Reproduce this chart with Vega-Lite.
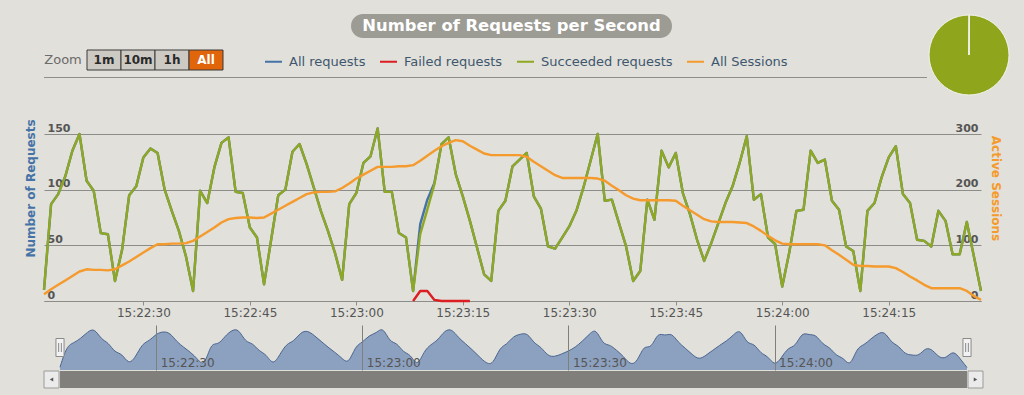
{
  "$schema": "https://vega.github.io/schema/vega-lite/v6.json",
  "background": "#e1e0da",
  "padding": {"left": 23, "top": 13, "right": 18, "bottom": 8},
  "config": {
    "font": "DejaVu Sans",
    "view": {"stroke": null}
  },
  "datasets": {
    "rps": [
      {"t":"2016-01-01T15:22:16","ok":10,"all":10,"sessions":12},
      {"t":"2016-01-01T15:22:17","ok":87,"all":87,"sessions":21},
      {"t":"2016-01-01T15:22:18","ok":96,"all":96,"sessions":29},
      {"t":"2016-01-01T15:22:19","ok":112,"all":112,"sessions":37},
      {"t":"2016-01-01T15:22:20","ok":135,"all":135,"sessions":45},
      {"t":"2016-01-01T15:22:21","ok":150,"all":150,"sessions":53},
      {"t":"2016-01-01T15:22:22","ok":108,"all":108,"sessions":57},
      {"t":"2016-01-01T15:22:23","ok":99,"all":99,"sessions":56},
      {"t":"2016-01-01T15:22:24","ok":61,"all":61,"sessions":56},
      {"t":"2016-01-01T15:22:25","ok":60,"all":60,"sessions":55},
      {"t":"2016-01-01T15:22:26","ok":18,"all":18,"sessions":57},
      {"t":"2016-01-01T15:22:27","ok":46,"all":46,"sessions":64},
      {"t":"2016-01-01T15:22:28","ok":95,"all":95,"sessions":71},
      {"t":"2016-01-01T15:22:29","ok":103,"all":103,"sessions":79},
      {"t":"2016-01-01T15:22:30","ok":129,"all":129,"sessions":87},
      {"t":"2016-01-01T15:22:31","ok":137,"all":137,"sessions":95},
      {"t":"2016-01-01T15:22:32","ok":133,"all":133,"sessions":102},
      {"t":"2016-01-01T15:22:33","ok":100,"all":100,"sessions":102},
      {"t":"2016-01-01T15:22:34","ok":81,"all":81,"sessions":103},
      {"t":"2016-01-01T15:22:35","ok":63,"all":63,"sessions":103},
      {"t":"2016-01-01T15:22:36","ok":40,"all":40,"sessions":104},
      {"t":"2016-01-01T15:22:37","ok":9,"all":9,"sessions":108},
      {"t":"2016-01-01T15:22:38","ok":99,"all":99,"sessions":116},
      {"t":"2016-01-01T15:22:39","ok":88,"all":88,"sessions":124},
      {"t":"2016-01-01T15:22:40","ok":120,"all":120,"sessions":132},
      {"t":"2016-01-01T15:22:41","ok":142,"all":142,"sessions":141},
      {"t":"2016-01-01T15:22:42","ok":147,"all":147,"sessions":147},
      {"t":"2016-01-01T15:22:43","ok":98,"all":98,"sessions":149},
      {"t":"2016-01-01T15:22:44","ok":97,"all":97,"sessions":150},
      {"t":"2016-01-01T15:22:45","ok":66,"all":66,"sessions":150},
      {"t":"2016-01-01T15:22:46","ok":57,"all":57,"sessions":149},
      {"t":"2016-01-01T15:22:47","ok":15,"all":15,"sessions":150},
      {"t":"2016-01-01T15:22:48","ok":55,"all":55,"sessions":157},
      {"t":"2016-01-01T15:22:49","ok":95,"all":95,"sessions":164},
      {"t":"2016-01-01T15:22:50","ok":100,"all":100,"sessions":171},
      {"t":"2016-01-01T15:22:51","ok":134,"all":134,"sessions":178},
      {"t":"2016-01-01T15:22:52","ok":141,"all":141,"sessions":185},
      {"t":"2016-01-01T15:22:53","ok":123,"all":123,"sessions":192},
      {"t":"2016-01-01T15:22:54","ok":102,"all":102,"sessions":195},
      {"t":"2016-01-01T15:22:55","ok":81,"all":81,"sessions":196},
      {"t":"2016-01-01T15:22:56","ok":63,"all":63,"sessions":196},
      {"t":"2016-01-01T15:22:57","ok":43,"all":43,"sessions":197},
      {"t":"2016-01-01T15:22:58","ok":19,"all":19,"sessions":203},
      {"t":"2016-01-01T15:22:59","ok":87,"all":87,"sessions":211},
      {"t":"2016-01-01T15:23:00","ok":97,"all":97,"sessions":220},
      {"t":"2016-01-01T15:23:01","ok":124,"all":124,"sessions":227},
      {"t":"2016-01-01T15:23:02","ok":130,"all":130,"sessions":234},
      {"t":"2016-01-01T15:23:03","ok":155,"all":155,"sessions":241},
      {"t":"2016-01-01T15:23:04","ok":98,"all":98,"sessions":241},
      {"t":"2016-01-01T15:23:05","ok":98,"all":98,"sessions":241},
      {"t":"2016-01-01T15:23:06","ok":61,"all":61,"sessions":242},
      {"t":"2016-01-01T15:23:07","ok":57,"all":57,"sessions":242},
      {"t":"2016-01-01T15:23:08","ok":9,"all":9,"failed":0,"sessions":244},
      {"t":"2016-01-01T15:23:09","ok":60,"all":69,"failed":9,"sessions":252},
      {"t":"2016-01-01T15:23:10","ok":82,"all":91,"failed":9,"sessions":261},
      {"t":"2016-01-01T15:23:11","ok":105,"all":106,"failed":1,"sessions":270},
      {"t":"2016-01-01T15:23:12","ok":141,"all":141,"failed":0,"sessions":278},
      {"t":"2016-01-01T15:23:13","ok":147,"all":147,"failed":0,"sessions":284},
      {"t":"2016-01-01T15:23:14","ok":114,"all":114,"failed":0,"sessions":289},
      {"t":"2016-01-01T15:23:15","ok":94,"all":94,"failed":0,"sessions":287},
      {"t":"2016-01-01T15:23:16","ok":72,"all":72,"failed":0,"sessions":279},
      {"t":"2016-01-01T15:23:17","ok":48,"all":48,"sessions":272},
      {"t":"2016-01-01T15:23:18","ok":24,"all":24,"sessions":265},
      {"t":"2016-01-01T15:23:19","ok":18,"all":18,"sessions":262},
      {"t":"2016-01-01T15:23:20","ok":81,"all":81,"sessions":262},
      {"t":"2016-01-01T15:23:21","ok":90,"all":90,"sessions":262},
      {"t":"2016-01-01T15:23:22","ok":121,"all":121,"sessions":262},
      {"t":"2016-01-01T15:23:23","ok":127,"all":127,"sessions":262},
      {"t":"2016-01-01T15:23:24","ok":133,"all":133,"sessions":259},
      {"t":"2016-01-01T15:23:25","ok":94,"all":94,"sessions":250},
      {"t":"2016-01-01T15:23:26","ok":83,"all":83,"sessions":242},
      {"t":"2016-01-01T15:23:27","ok":49,"all":49,"sessions":234},
      {"t":"2016-01-01T15:23:28","ok":47,"all":47,"sessions":226},
      {"t":"2016-01-01T15:23:29","ok":57,"all":57,"sessions":221},
      {"t":"2016-01-01T15:23:30","ok":67,"all":67,"sessions":221},
      {"t":"2016-01-01T15:23:31","ok":81,"all":81,"sessions":221},
      {"t":"2016-01-01T15:23:32","ok":102,"all":102,"sessions":221},
      {"t":"2016-01-01T15:23:33","ok":126,"all":126,"sessions":221},
      {"t":"2016-01-01T15:23:34","ok":150,"all":150,"sessions":220},
      {"t":"2016-01-01T15:23:35","ok":90,"all":90,"sessions":216},
      {"t":"2016-01-01T15:23:36","ok":91,"all":91,"sessions":207},
      {"t":"2016-01-01T15:23:37","ok":70,"all":70,"sessions":199},
      {"t":"2016-01-01T15:23:38","ok":49,"all":49,"sessions":190},
      {"t":"2016-01-01T15:23:39","ok":18,"all":18,"sessions":184},
      {"t":"2016-01-01T15:23:40","ok":27,"all":27,"sessions":181},
      {"t":"2016-01-01T15:23:41","ok":91,"all":91,"sessions":181},
      {"t":"2016-01-01T15:23:42","ok":73,"all":73,"sessions":181},
      {"t":"2016-01-01T15:23:43","ok":135,"all":135,"sessions":181},
      {"t":"2016-01-01T15:23:44","ok":120,"all":120,"sessions":181},
      {"t":"2016-01-01T15:23:45","ok":133,"all":133,"sessions":180},
      {"t":"2016-01-01T15:23:46","ok":97,"all":97,"sessions":171},
      {"t":"2016-01-01T15:23:47","ok":78,"all":78,"sessions":163},
      {"t":"2016-01-01T15:23:48","ok":55,"all":55,"sessions":155},
      {"t":"2016-01-01T15:23:49","ok":36,"all":36,"sessions":147},
      {"t":"2016-01-01T15:23:50","ok":52,"all":52,"sessions":143},
      {"t":"2016-01-01T15:23:51","ok":70,"all":70,"sessions":142},
      {"t":"2016-01-01T15:23:52","ok":88,"all":88,"sessions":142},
      {"t":"2016-01-01T15:23:53","ok":103,"all":103,"sessions":142},
      {"t":"2016-01-01T15:23:54","ok":124,"all":124,"sessions":141},
      {"t":"2016-01-01T15:23:55","ok":148,"all":148,"sessions":140},
      {"t":"2016-01-01T15:23:56","ok":91,"all":91,"sessions":134},
      {"t":"2016-01-01T15:23:57","ok":96,"all":96,"sessions":126},
      {"t":"2016-01-01T15:23:58","ok":57,"all":57,"sessions":117},
      {"t":"2016-01-01T15:23:59","ok":51,"all":51,"sessions":109},
      {"t":"2016-01-01T15:24:00","ok":13,"all":13,"sessions":103},
      {"t":"2016-01-01T15:24:01","ok":44,"all":44,"sessions":102},
      {"t":"2016-01-01T15:24:02","ok":81,"all":81,"sessions":102},
      {"t":"2016-01-01T15:24:03","ok":82,"all":82,"sessions":102},
      {"t":"2016-01-01T15:24:04","ok":135,"all":135,"sessions":102},
      {"t":"2016-01-01T15:24:05","ok":124,"all":124,"sessions":102},
      {"t":"2016-01-01T15:24:06","ok":127,"all":127,"sessions":100},
      {"t":"2016-01-01T15:24:07","ok":90,"all":90,"sessions":91},
      {"t":"2016-01-01T15:24:08","ok":82,"all":82,"sessions":83},
      {"t":"2016-01-01T15:24:09","ok":49,"all":49,"sessions":74},
      {"t":"2016-01-01T15:24:10","ok":45,"all":45,"sessions":65},
      {"t":"2016-01-01T15:24:11","ok":9,"all":9,"sessions":63},
      {"t":"2016-01-01T15:24:12","ok":81,"all":81,"sessions":63},
      {"t":"2016-01-01T15:24:13","ok":88,"all":88,"sessions":62},
      {"t":"2016-01-01T15:24:14","ok":111,"all":111,"sessions":62},
      {"t":"2016-01-01T15:24:15","ok":129,"all":129,"sessions":62},
      {"t":"2016-01-01T15:24:16","ok":139,"all":139,"sessions":59},
      {"t":"2016-01-01T15:24:17","ok":96,"all":96,"sessions":52},
      {"t":"2016-01-01T15:24:18","ok":88,"all":88,"sessions":44},
      {"t":"2016-01-01T15:24:19","ok":55,"all":55,"sessions":37},
      {"t":"2016-01-01T15:24:20","ok":54,"all":54,"sessions":29},
      {"t":"2016-01-01T15:24:21","ok":49,"all":49,"sessions":23},
      {"t":"2016-01-01T15:24:22","ok":81,"all":81,"sessions":23},
      {"t":"2016-01-01T15:24:23","ok":72,"all":72,"sessions":23},
      {"t":"2016-01-01T15:24:24","ok":42,"all":42,"sessions":23},
      {"t":"2016-01-01T15:24:25","ok":42,"all":42,"sessions":23},
      {"t":"2016-01-01T15:24:26","ok":71,"all":71,"sessions":18},
      {"t":"2016-01-01T15:24:27","ok":40,"all":40,"sessions":9},
      {"t":"2016-01-01T15:24:28","ok":9,"all":9,"sessions":2}
    ]
  },
  "spacing": 21,
  "resolve": {"scale": {"color": "independent"}, "legend": {"color": "independent"}},
  "vconcat": [
    {
      "spacing": 0,
      "resolve": {"scale": {"color": "independent"}, "legend": {"color": "independent"}},
      "hconcat": [
        {
          "spacing": 6,
          "resolve": {"scale": {"color": "independent"}, "legend": {"color": "independent"}},
          "vconcat": [
            {
              "spacing": 0,
              "hconcat": [
                {
                  "width": 307, "height": 29,
                  "data": {"values": [{}]},
                  "mark": {"type": "rect", "opacity": 0},
                  "encoding": {}
                },
                {
                  "width": 321, "height": 24,
                  "data": {"values": [{"title": "Number of Requests per Second"}]},
                  "layer": [
                    {"mark": {"type": "rect", "fill": "#9c9b94", "cornerRadius": 12}, "encoding": {}},
                    {"mark": {"type": "text", "fontSize": 16.4, "fontWeight": "bold", "fill": "#ffffff"},
                     "encoding": {"text": {"field": "title"}}}
                  ]
                }
              ]
            },
            {
              "width": 179, "height": 20,
              "data": {"values": [
                {"label": "Zoom", "kind": "label"},
                {"label": "1m", "kind": "button"},
                {"label": "10m", "kind": "button"},
                {"label": "1h", "kind": "button"},
                {"label": "All", "kind": "active"}
              ]},
              "encoding": {
                "x": {"field": "label", "type": "nominal", "sort": null,
                      "scale": {"type": "band", "domain": ["Zoom", "1m", "10m", "1h", "All"],
                                "paddingInner": 0, "paddingOuter": 0.1324, "align": 1},
                      "axis": null}
              },
              "layer": [
                {
                  "transform": [{"filter": "datum.kind != 'label'"}],
                  "mark": {"type": "rect", "stroke": "#3a3a3a", "strokeWidth": 1},
                  "encoding": {"fill": {"condition": {"test": "datum.kind == 'active'", "value": "#e0650b"}, "value": "#cdcac4"}}
                },
                {
                  "transform": [{"filter": "datum.kind != 'label'"}],
                  "mark": {"type": "text", "fontSize": 12, "fontWeight": "bold"},
                  "encoding": {
                    "text": {"field": "label"},
                    "color": {"condition": {"test": "datum.kind == 'active'", "value": "#ffffff"}, "value": "#2a2a2a"}
                  }
                },
                {
                  "transform": [{"filter": "datum.kind == 'label'"}],
                  "mark": {"type": "text", "fontSize": 13, "color": "#6b6b6b", "dx": -7},
                  "encoding": {"text": {"field": "label"}}
                },
                {
                  "data": {"values": []},
                  "mark": {"type": "point", "opacity": 1},
                  "encoding": {
                    "color": {"field": "series", "type": "nominal",
                              "scale": {"domain": ["All requests", "Failed requests", "Succeeded requests", "All Sessions"],
                                        "range": ["#4572a7", "#dc1e23", "#8ea823", "#f59a2c"]},
                              "legend": {"orient": "none", "legendX": 220, "legendY": 2, "direction": "horizontal",
                                         "columns": 4, "title": null, "symbolType": "stroke", "symbolStrokeWidth": 2,
                                         "symbolSize": 289, "symbolOpacity": 1, "labelFontSize": 13, "labelColor": "#3e576f",
                                         "columnPadding": 10, "labelOffset": 6, "padding": 0}}
                  }
                }
              ]
            },
            {
              "width": 883, "height": 1,
              "data": {"values": [{}]},
              "mark": {"type": "rect", "fill": "#8e8e8a"},
              "encoding": {}
            }
          ]
        },
        {
          "width": 80, "height": 82,
          "data": {"name": "rps"},
          "transform": [
            {"fold": ["ok", "failed"], "as": ["status", "n"]},
            {"aggregate": [{"op": "sum", "field": "n", "as": "total"}], "groupby": ["status"]}
          ],
          "mark": {"type": "arc", "radius": 40, "stroke": "#f4f4f0", "strokeWidth": 1},
          "encoding": {
            "theta": {"field": "total", "type": "quantitative"},
            "order": {"field": "status", "sort": "ascending"},
            "fill": {"condition": {"test": "datum.status == 'failed'", "value": "#d8221f"}, "value": "#8fa51b"}
          }
        }
      ]
    },
    {
      "spacing": 7,
      "vconcat": [
        {
          "width": 937, "height": 167,
          "data": {"name": "rps"},
          "encoding": {
            "x": {"field": "t", "type": "temporal", "scale": {"nice": false},
                  "axis": {"title": null, "format": "%H:%M:%S", "tickCount": 9,
                           "grid": false, "domain": true, "domainColor": "#8c8c88", "ticks": true, "tickSize": 4,
                           "tickColor": "#8c8c88", "labelFontSize": 12, "labelColor": "#555555", "labelPadding": 2,
                           "labelFlush": false}}
          },
          "layer": [
            {
              "mark": {"type": "line", "strokeWidth": 2.4, "strokeJoin": "round", "color": "#4572a7"},
              "encoding": {
                "y": {"field": "all", "type": "quantitative", "scale": {"domain": [0, 150], "nice": false},
                      "axis": {"title": "Number of Requests", "values": [0, 50, 100, 150], "grid": true,
                               "gridColor": "#8c8c88", "domain": false, "ticks": false,
                               "labelAlign": "left", "labelBaseline": "alphabetic", "labelPadding": -3,
                               "labelOffset": -3, "labelFontSize": 11, "labelFontWeight": "bold",
                               "labelColor": "#555555", "titleColor": "#4572a7", "titleFontSize": 12,
                               "titleFontWeight": "bold", "titleAngle": -90, "titleX": -10, "titleY": 54,
                               "titleAlign": "center", "titleBaseline": "alphabetic"}}
              }
            },
            {
              "mark": {"type": "line", "strokeWidth": 2.4, "strokeJoin": "round", "color": "#dc1e23"},
              "encoding": {
                "y": {"field": "failed", "type": "quantitative", "scale": {"domain": [0, 150], "nice": false}, "axis": null}
              }
            },
            {
              "mark": {"type": "line", "strokeWidth": 2.4, "strokeJoin": "round", "color": "#8ea823"},
              "encoding": {
                "y": {"field": "ok", "type": "quantitative", "scale": {"domain": [0, 150], "nice": false}, "axis": null}
              }
            },
            {
              "mark": {"type": "line", "strokeWidth": 2.4, "strokeJoin": "round", "color": "#f59a2c"},
              "encoding": {
                "y": {"field": "sessions", "type": "quantitative", "scale": {"domain": [0, 300], "nice": false},
                      "axis": {"orient": "right", "title": "Active Sessions", "values": [0, 100, 200, 300], "grid": false,
                               "domain": false, "ticks": false, "labelAlign": "right", "labelBaseline": "alphabetic",
                               "labelPadding": -3, "labelOffset": -3, "labelFontSize": 11, "labelFontWeight": "bold",
                               "labelColor": "#555555", "titleColor": "#f59a2c", "titleFontSize": 12,
                               "titleFontWeight": "bold", "titleAngle": 90, "titleX": 10, "titleY": 54,
                               "titleAlign": "center", "titleBaseline": "alphabetic"}}
              }
            }
          ],
          "resolve": {"scale": {"y": "independent"}}
        },
        {
          "spacing": 0,
          "vconcat": [
            {
              "spacing": 0,
              "hconcat": [
                {
                  "width": 8.5, "height": 45,
                  "data": {"values": [{}]},
                  "mark": {"type": "rect", "opacity": 0},
                  "encoding": {}
                },
                {
                  "width": 907, "height": 45,
                  "data": {"name": "rps"},
                  "encoding": {
                    "x": {"field": "t", "type": "temporal", "scale": {"nice": false},
                          "axis": {"title": null, "format": "%H:%M:%S", "tickCount": 4,
                                   "grid": true, "gridColor": "#7f7f7b", "domain": false, "ticks": false,
                                   "labelAlign": "left", "labelBaseline": "alphabetic", "labelPadding": -4,
                                   "labelOffset": 4, "labelFontSize": 12, "labelColor": "#555555",
                                   "labelFlush": false, "zindex": 1}}
                  },
                  "layer": [
                    {
                      "mark": {"type": "area", "interpolate": "basis", "fill": "#8ca0bf", "fillOpacity": 1,
                               "line": {"stroke": "#4a6590", "strokeWidth": 1}},
                      "encoding": {
                        "y": {"field": "all", "type": "quantitative", "scale": {"domain": [0, 160], "nice": false}, "axis": null}
                      }
                    },
                    {
                      "transform": [
                        {"window": [{"op": "row_number", "as": "rn"}]},
                        {"joinaggregate": [{"op": "count", "as": "cnt"}]},
                        {"filter": "datum.rn == 1 || datum.rn == datum.cnt"}
                      ],
                      "mark": {"type": "point", "shape": "M-0.45,-1H0.45V1H-0.45Z M-0.15,-0.5V0.5 M0.15,-0.5V0.5",
                               "size": 324, "filled": true, "fill": "#f2f2f2", "stroke": "#8a8a8a",
                               "strokeWidth": 1, "opacity": 1},
                      "encoding": {}
                    }
                  ]
                }
              ]
            },
            {
              "spacing": 0,
              "hconcat": [
                {
                  "width": 15, "height": 17,
                  "data": {"values": [{}]},
                  "layer": [
                    {"mark": {"type": "rect", "fill": "#ebebeb", "stroke": "#9a9a9a", "strokeWidth": 1}, "encoding": {}},
                    {"mark": {"type": "point", "shape": "triangle-left", "size": 16, "filled": true, "fill": "#555555", "opacity": 1}, "encoding": {}}
                  ]
                },
                {
                  "width": 907, "height": 17,
                  "data": {"values": [{}]},
                  "mark": {"type": "rect", "fill": "#807f7b"},
                  "encoding": {}
                },
                {
                  "width": 15, "height": 17,
                  "data": {"values": [{}]},
                  "layer": [
                    {"mark": {"type": "rect", "fill": "#ebebeb", "stroke": "#9a9a9a", "strokeWidth": 1}, "encoding": {}},
                    {"mark": {"type": "point", "shape": "triangle-right", "size": 16, "filled": true, "fill": "#555555", "opacity": 1}, "encoding": {}}
                  ]
                }
              ]
            }
          ]
        }
      ]
    }
  ]
}
